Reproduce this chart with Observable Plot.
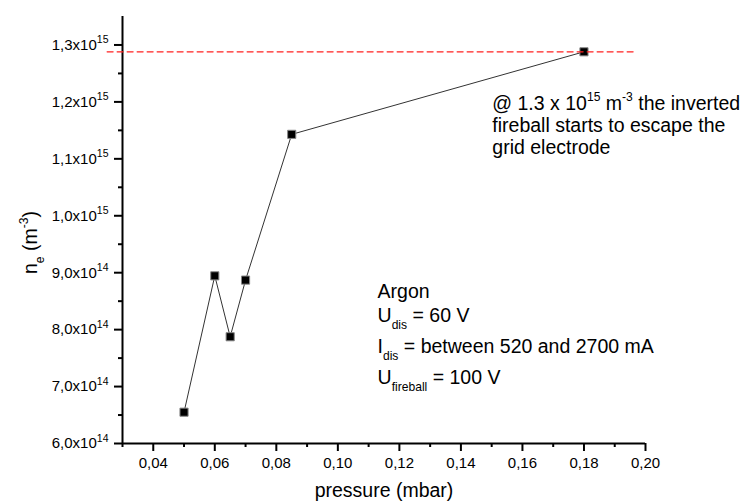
<!DOCTYPE html>
<html><head><meta charset="utf-8">
<script src="https://cdn.jsdelivr.net/npm/d3@7"></script>
<script src="https://cdn.jsdelivr.net/npm/@observablehq/plot@0.6"></script>
<style>
html,body{margin:0;padding:0;background:#fff;}
#chart svg{display:block;}
#chart g[aria-label="x-axis tick label"] > text,
#chart g[aria-label="y-axis tick label"] > text{font-size:15px;}
</style></head><body><div id="chart"></div>
<script>
// ---- data ----
const pressure = [0.05, 0.06, 0.065, 0.07, 0.085, 0.18];
const density  = [6.55e14, 8.945e14, 7.875e14, 8.87e14, 1.143e15, 1.288e15];

const xMajorTicks = [0.04, 0.06, 0.08, 0.10, 0.12, 0.14, 0.16, 0.18, 0.20];
const xMinorTicks = [0.03, 0.05, 0.07, 0.09, 0.11, 0.13, 0.15, 0.17, 0.19];
const yMajorTicks = [6e14, 7e14, 8e14, 9e14, 1.0e15, 1.1e15, 1.2e15, 1.3e15];
const yMinorTicks = [6.5e14, 7.5e14, 8.5e14, 9.5e14, 1.05e15, 1.15e15, 1.25e15];

const thresholdDensity = 1.288e15;
const thresholdX = [0.025, 0.196];

const noteLines = ["@ 1.3 x 10^{15} m^{-3} the inverted", "fireball starts to escape the", "grid electrode"];
const noteX = 0.1502;
const noteY = [1.1855e15, 1.1467e15, 1.1079e15];

const infoLines = ["Argon", "U_{dis} = 60 V", "I_{dis} = between 520 and 2700 mA", "U_{fireball} = 100 V"];
const infoX = 0.1129;
const infoY = [8.563e14, 8.139e14, 7.593e14, 7.053e14];

const xTitle = "pressure (mbar)";
const yTitle = "n_{e} (m^{-3})";
const yTitleY = 9.53e14;

// ---- helpers ----
const fmtX = v => v.toFixed(2).replace(".", ",");
const fmtY = v => {
  const e = Math.floor(Math.log10(v) + 1e-9);
  const m = v / Math.pow(10, e);
  return m.toFixed(1).replace(".", ",") + "x10^{" + e + "}";
};

const points = pressure.map((p, i) => ({p, n: density[i]}));
const threshold = thresholdX.map(x => ({x, y: thresholdDensity}));
const notes = noteLines.map((t, i) => ({t, y: noteY[i]}));
const infos = infoLines.map((t, i) => ({t, y: infoY[i]}));

const FONT = "'Liberation Sans', Arial, Helvetica, sans-serif";

const chart = Plot.plot({
  width: 744, height: 502,
  marginTop: 16, marginRight: 99, marginBottom: 59, marginLeft: 122,
  style: {fontFamily: FONT, fontSize: "15px", color: "#000", background: "#fff", overflow: "visible"},
  x: {domain: [0.03, 0.20]},
  y: {domain: [6e14, 1.35e15]},
  marks: [
    Plot.axisX(xMajorTicks, {tickSize: 8, tickPadding: 6, tickFormat: fmtX, strokeWidth: 2, fontSize: 15, label: null}),
    Plot.axisX(xMinorTicks, {tickSize: 4, tickFormat: () => "", strokeWidth: 2, label: null}),
    Plot.axisY(yMajorTicks, {tickSize: 8, tickPadding: 6, tickFormat: fmtY, strokeWidth: 2, fontSize: 15, label: null}),
    Plot.axisY(yMinorTicks, {tickSize: 4, tickFormat: () => "", strokeWidth: 2, label: null}),
    Plot.ruleX([0.03], {stroke: "#000", strokeWidth: 2}),
    Plot.ruleY([6e14], {stroke: "#000", strokeWidth: 2}),
    Plot.line(points, {x: "p", y: "n", stroke: "#333", strokeWidth: 1}),
    Plot.dot(points, {x: "p", y: "n", symbol: "square", r: 4.6, fill: "#000", stroke: "#888", strokeWidth: 1}),
    Plot.line(threshold, {x: "x", y: "y", stroke: "#ff2020", strokeWidth: 1.2, strokeDasharray: "6,4"}),
    Plot.text(notes, {x: () => noteX, y: "y", text: "t", textAnchor: "start", lineAnchor: "bottom", fontSize: 19.5, fill: "#000"}),
    Plot.text(infos, {x: () => infoX, y: "y", text: "t", textAnchor: "start", lineAnchor: "bottom", fontSize: 19.5, fill: "#000"}),
    Plot.text([xTitle], {frameAnchor: "bottom", dy: 53, text: d => d, textAnchor: "middle", lineAnchor: "bottom", fontSize: 19.5, fill: "#000"}),
    Plot.text([yTitle], {frameAnchor: "left", y: () => yTitleY, dx: -86, rotate: -90, text: d => d, textAnchor: "middle", lineAnchor: "bottom", fontSize: 19.5, fill: "#000"})
  ]
});

// rich text: ^{..} superscript, _{..} subscript
function richify(el) {
  const s = el.textContent;
  if (!/[\^_]\{/.test(s)) return;
  const fs = parseFloat(getComputedStyle(el).fontSize) || 15;
  const small = fs <= 16 ? fs * 0.7 : fs * 0.62;
  const supShift = fs * 0.45, subShift = fs * 0.38;
  const parts = []; const re = /([\^_])\{([^}]*)\}/g; let last = 0, m;
  while ((m = re.exec(s))) {
    if (m.index > last) parts.push({t: s.slice(last, m.index), k: ""});
    parts.push({t: m[2], k: m[1]});
    last = re.lastIndex;
  }
  if (last < s.length) parts.push({t: s.slice(last), k: ""});
  el.textContent = "";
  let cur = 0;
  for (const p of parts) {
    const ts = document.createElementNS("http://www.w3.org/2000/svg", "tspan");
    const target = p.k === "^" ? -supShift : p.k === "_" ? subShift : 0;
    ts.setAttribute("dy", (target - cur).toFixed(2));
    cur = target;
    if (p.k) ts.setAttribute("font-size", small.toFixed(1));
    ts.style.whiteSpace = "pre";
    ts.textContent = p.t;
    el.appendChild(ts);
  }
}
document.getElementById("chart").appendChild(chart);
chart.querySelectorAll("text").forEach(richify);
</script>
</body></html>
